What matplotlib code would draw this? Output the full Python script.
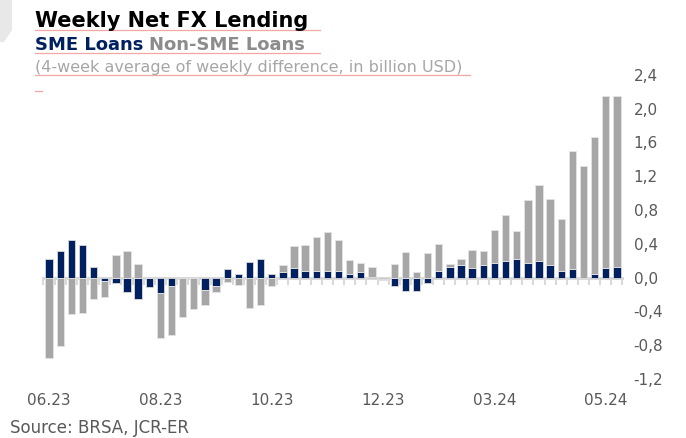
import numpy as np
import matplotlib
matplotlib.use("Agg")
import matplotlib.pyplot as plt
from matplotlib.lines import Line2D
from matplotlib.patches import Polygon
from matplotlib.ticker import FuncFormatter

# weekly values, billion USD (4-week average)
sme = [0.225, 0.316, 0.44, 0.39, 0.13, -0.035, -0.07, -0.17, -0.26, -0.11,
       -0.18, -0.095, -0.01, 0.0, -0.145, -0.10, 0.10, 0.045, 0.185, 0.22,
       0.044, 0.067, 0.115, 0.08, 0.08, 0.08, 0.08, 0.044, 0.067, 0.01,
       -0.02, -0.105, -0.165, -0.155, -0.06, 0.08, 0.13, 0.15, 0.11, 0.15,
       0.17, 0.197, 0.22, 0.178, 0.197, 0.15, 0.079, 0.102, -0.005, 0.04,
       0.114, 0.126]
non_sme = [-0.95, -0.81, -0.43, -0.42, -0.25, -0.195, 0.27, 0.31, 0.16, 0.0,
           -0.54, -0.585, -0.46, -0.37, -0.185, -0.07, -0.05, -0.09, -0.36, -0.32,
           -0.10, 0.08, 0.255, 0.31, 0.405, 0.455, 0.37, 0.16, 0.10, 0.11,
           -0.01, 0.165, 0.30, 0.067, 0.29, 0.315, 0.03, 0.075, 0.22, 0.165,
           0.395, 0.545, 0.33, 0.74, 0.90, 0.78, 0.615, 1.40, 1.318, 1.63,
           2.04, 2.03]
tick_labels = ['06.23', '08.23', '10.23', '12.23', '03.24', '05.24']
label_step = 10
y_ticks = [-1.2, -0.8, -0.4, 0.0, 0.4, 0.8, 1.2, 1.6, 2.0, 2.4]

NAVY = '#002060'
GREY = '#a6a6a6'
TXT = '#595959'
PINK = '#f2a7a7'

sme = np.array(sme)
non_sme = np.array(non_sme)
x = np.arange(len(sme))
# excel style stacking: same sign stacks on top, other sign starts at zero
grey_bottom = np.where(np.sign(non_sme) == np.sign(sme), sme, 0.0)

fig = plt.figure(figsize=(6.86, 4.38), dpi=100)
ax = fig.add_axes([0.0634, 0.135, 0.844, 0.694])

ax.bar(x, sme, width=0.66, color=NAVY, edgecolor='#d9d9d9', linewidth=0.6, zorder=3)
ax.bar(x, non_sme, bottom=grey_bottom, width=0.66, color=GREY,
       edgecolor='#e3e3e3', linewidth=0.6, zorder=3)

ax.set_xlim(-0.5, len(sme) - 0.5)
ax.set_ylim(y_ticks[0], y_ticks[-1])

for s in ['top', 'left', 'right']:
    ax.spines[s].set_visible(False)
ax.spines['bottom'].set_position(('data', 0))
ax.spines['bottom'].set_color('#d9d9d9')
ax.spines['bottom'].set_linewidth(2.2)
ax.spines['bottom'].set_zorder(2)
ax.set_xticks(np.arange(-0.5, len(sme), 1.0))
ax.tick_params(axis='x', direction='out', length=5, width=1.5, color='#d9d9d9',
               labelbottom=False)

sec = ax.secondary_xaxis('bottom')
sec.spines['bottom'].set_visible(False)
sec.set_xticks(x[::label_step], tick_labels)
sec.tick_params(length=0, pad=10, labelsize=11, labelcolor=TXT)

ax.yaxis.tick_right()
ax.set_yticks(y_ticks)
ax.yaxis.set_major_formatter(FuncFormatter(lambda v, p: ('%.1f' % v).replace('.', ',')))
ax.tick_params(axis='y', length=0, pad=8, labelsize=11, labelcolor=TXT)

# header
fig.text(0.051, 0.953, 'Weekly Net FX Lending', fontsize=15, fontweight='bold',
         color='black', va='center')
t1 = fig.text(0.051, 0.897, 'SME Loans', fontsize=13, fontweight='bold',
              color=NAVY, va='center')
fig.canvas.draw()
bb = t1.get_window_extent()
fig.text(bb.x1 / fig.bbox.width + 0.008, 0.897, 'Non-SME Loans', fontsize=13,
         fontweight='bold', color='#8c8c8c', va='center')
fig.text(0.051, 0.847, '(4-week average of weekly difference, in billion USD)',
         fontsize=11.5, color=GREY, va='center')
fig.text(0.015, 0.022, 'Source: BRSA, JCR-ER', fontsize=12, color=TXT, va='center')

# pink underline marks seen in the source image
for y0, x1 in [(30, 320), (53, 320), (75, 470), (91, 42)]:
    fig.add_artist(Line2D([35 / 686, x1 / 686], [1 - y0 / 438, 1 - y0 / 438],
                          color=PINK, lw=0.9))

fig.add_artist(Polygon([[0, 1], [12 / 686, 1], [12 / 686, 1 - 30 / 438],
                        [4 / 686, 1 - 42 / 438], [0, 1 - 42 / 438]],
                       closed=True, facecolor='#e8e8e8', edgecolor='none'))

fig.savefig('out.png', dpi=100)
